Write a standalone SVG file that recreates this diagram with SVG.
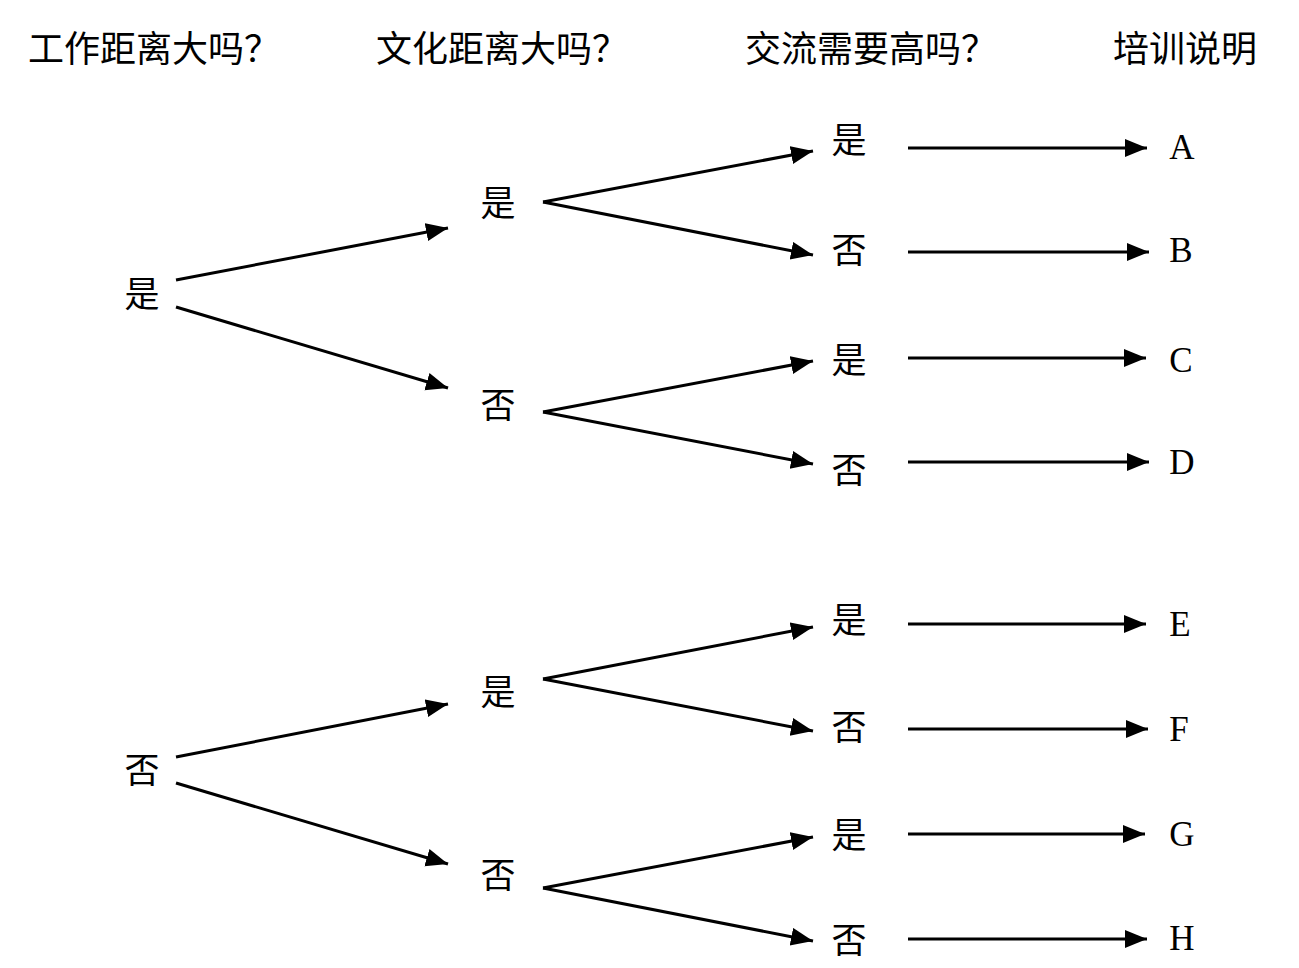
<svg xmlns="http://www.w3.org/2000/svg" width="1299" height="968" viewBox="0 0 1299 968">
<defs>
<marker id="ah" markerUnits="userSpaceOnUse" markerWidth="24" markerHeight="20" refX="22" refY="9" orient="auto">
<path d="M0,0 L22,9 L0,18 z" fill="#000"/>
</marker>
<style>
.t{font-family:"Liberation Serif","Noto Sans CJK SC",serif;font-size:36px;fill:#000}
.n{font-family:"Liberation Serif","Noto Sans CJK SC",serif;font-size:35px;fill:#000;text-anchor:middle}
.l{font-family:"Liberation Serif",serif;font-size:35px;fill:#000;text-anchor:middle}
.c line{stroke:#000;stroke-width:3;marker-end:url(#ah)}
</style>
</defs>
<rect width="1299" height="968" fill="#fff"/>
<g id="headers">
<text class="t" x="28" y="62">工作距离大吗？</text>
<text class="t" x="376" y="62">文化距离大吗？</text>
<text class="t" x="745" y="62">交流需要高吗？</text>
<text class="t" x="1113" y="62">培训说明</text>
</g>
<g id="n-l1-yes"><text class="n" x="142" y="307">是</text></g>
<g id="n-l1-no"><text class="n" x="142" y="783">否</text></g>
<g id="n-l2-1"><text class="n" x="498" y="216">是</text></g>
<g id="n-l2-2"><text class="n" x="498" y="418">否</text></g>
<g id="n-l2-3"><text class="n" x="498" y="705">是</text></g>
<g id="n-l2-4"><text class="n" x="498" y="888">否</text></g>
<g id="n-l3-1"><text class="n" x="849" y="153">是</text></g>
<g id="n-l3-2"><text class="n" x="849" y="263">否</text></g>
<g id="n-l3-3"><text class="n" x="849" y="373">是</text></g>
<g id="n-l3-4"><text class="n" x="849" y="483">否</text></g>
<g id="n-l3-5"><text class="n" x="849" y="633">是</text></g>
<g id="n-l3-6"><text class="n" x="849" y="740">否</text></g>
<g id="n-l3-7"><text class="n" x="849" y="848">是</text></g>
<g id="n-l3-8"><text class="n" x="849" y="953">否</text></g>
<g id="r-A"><text class="l" x="1182" y="159">A</text></g>
<g id="r-B"><text class="l" x="1181" y="262">B</text></g>
<g id="r-C"><text class="l" x="1181" y="372">C</text></g>
<g id="r-D"><text class="l" x="1182" y="474">D</text></g>
<g id="r-E"><text class="l" x="1180" y="636">E</text></g>
<g id="r-F"><text class="l" x="1179" y="741">F</text></g>
<g id="r-G"><text class="l" x="1182" y="846">G</text></g>
<g id="r-H"><text class="l" x="1182" y="950">H</text></g>
<g id="connectors" class="c">
<line x1="176" y1="280" x2="448" y2="228"/>
<line x1="176" y1="307" x2="448" y2="388"/>
<line x1="176" y1="757" x2="448" y2="704"/>
<line x1="176" y1="783" x2="448" y2="864"/>
<line x1="543" y1="202" x2="813" y2="151"/>
<line x1="543" y1="202" x2="813" y2="255"/>
<line x1="543" y1="412" x2="813" y2="361"/>
<line x1="543" y1="412" x2="813" y2="464"/>
<line x1="543" y1="679" x2="813" y2="627"/>
<line x1="543" y1="679" x2="813" y2="731"/>
<line x1="543" y1="888" x2="813" y2="837"/>
<line x1="543" y1="888" x2="813" y2="941"/>
<line x1="908" y1="148" x2="1147" y2="148"/>
<line x1="908" y1="252" x2="1149" y2="252"/>
<line x1="908" y1="358" x2="1146" y2="358"/>
<line x1="908" y1="462" x2="1149" y2="462"/>
<line x1="908" y1="624" x2="1146" y2="624"/>
<line x1="908" y1="729" x2="1148" y2="729"/>
<line x1="908" y1="834" x2="1145" y2="834"/>
<line x1="908" y1="939" x2="1147" y2="939"/>
</g>
</svg>
